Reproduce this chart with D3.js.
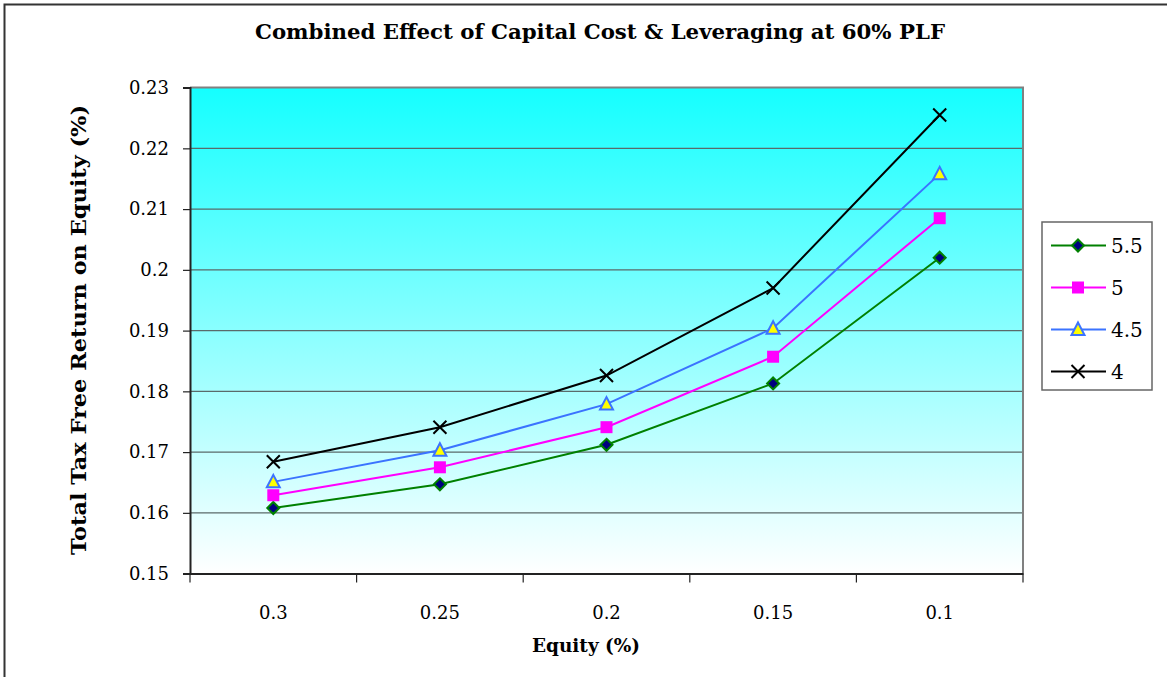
<!DOCTYPE html>
<html>
<head>
<meta charset="utf-8">
<script src="https://cdn.jsdelivr.net/npm/d3@7"></script>
<style>
  html, body { margin: 0; padding: 0; background: #fff; }
  svg { display: block; }
</style>
</head>
<body>
<svg id="chart" width="1167" height="677"></svg>
<script>
// Equity share categories (x axis)
const equity = ["0.3", "0.25", "0.2", "0.15", "0.1"];

// Total tax free return on equity, one array per capital cost
const cost55 = [0.1608, 0.1647, 0.1712, 0.1813, 0.2020];
const cost5  = [0.1629, 0.1675, 0.1741, 0.1857, 0.2085];
const cost45 = [0.1651, 0.1703, 0.1779, 0.1904, 0.2158];
const cost4  = [0.1684, 0.1741, 0.1826, 0.1970, 0.2255];

const seriesNames = ["5.5", "5", "4.5", "4"];
const yTicks = [0.15, 0.16, 0.17, 0.18, 0.19, 0.2, 0.21, 0.22, 0.23];

const series = [
  { name: seriesNames[0], values: cost55, color: "#008000", marker: "diamond" },
  { name: seriesNames[1], values: cost5,  color: "#ff00ff", marker: "square" },
  { name: seriesNames[2], values: cost45, color: "#3b73ff", marker: "triangle" },
  { name: seriesNames[3], values: cost4,  color: "#000000", marker: "cross" }
];

const FONT = "'DejaVu Serif', 'Liberation Serif', serif";

const svg = d3.select("#chart");
const plot = { left: 190, top: 87.6, right: 1023, bottom: 573.6 };

// Outer frame (left and top edges)
svg.append("path")
  .attr("d", `M4.5,677 L4.5,4.5 L1167,4.5`)
  .attr("fill", "none").attr("stroke", "#333").attr("stroke-width", 2);

// Plot background gradient
const defs = svg.append("defs");
const grad = defs.append("linearGradient").attr("id", "bg")
  .attr("x1", 0).attr("y1", 0).attr("x2", 0).attr("y2", 1);
grad.append("stop").attr("offset", "0%").attr("stop-color", "#14ffff");
grad.append("stop").attr("offset", "100%").attr("stop-color", "#ffffff");

svg.append("rect")
  .attr("x", plot.left).attr("y", plot.top)
  .attr("width", plot.right - plot.left).attr("height", plot.bottom - plot.top)
  .attr("fill", "url(#bg)");

const x = d3.scaleBand().domain(equity).range([plot.left, plot.right]);
const y = d3.scaleLinear().domain([0.15, 0.23]).range([plot.bottom, plot.top]);

// Horizontal gridlines
svg.append("g").selectAll("line")
  .data(yTicks.filter(t => t > 0.15 && t < 0.23))
  .join("line")
  .attr("x1", plot.left).attr("x2", plot.right)
  .attr("y1", d => y(d)).attr("y2", d => y(d))
  .attr("stroke", "#5a6a6a").attr("stroke-width", 1.2);

// Top and right plot border
svg.append("path")
  .attr("d", `M${plot.left},${plot.top} L${plot.right},${plot.top} L${plot.right},${plot.bottom}`)
  .attr("fill", "none").attr("stroke", "#808080").attr("stroke-width", 2);

// Y axis
const yAxis = svg.append("g")
  .attr("transform", `translate(${plot.left},0)`)
  .call(d3.axisLeft(y).tickValues(yTicks).tickFormat(d => String(+d.toFixed(2))).tickSize(7).tickPadding(14));
yAxis.select(".domain").attr("stroke", "#222").attr("stroke-width", 2);
yAxis.selectAll(".tick line").attr("stroke", "#222").attr("stroke-width", 1.2);
yAxis.selectAll("text").style("font-family", FONT).style("font-size", "18px").attr("fill", "#000");

// X axis with ticks at category boundaries
const xAxis = svg.append("g")
  .attr("transform", `translate(0,${plot.bottom})`)
  .call(d3.axisBottom(x).tickSize(0).tickPadding(33));
xAxis.select(".domain").attr("stroke", "#222").attr("stroke-width", 2);
xAxis.selectAll("text").style("font-family", FONT).style("font-size", "18px").attr("fill", "#000");
const bounds = equity.map(d => x(d)).concat([x(equity[equity.length - 1]) + x.bandwidth()]);
xAxis.selectAll(".bound").data(bounds).join("line").attr("class", "bound")
  .attr("x1", d => d).attr("x2", d => d).attr("y1", 0).attr("y2", 9)
  .attr("stroke", "#222").attr("stroke-width", 1.2);

// Titles
svg.append("text")
  .attr("x", 600).attr("y", 39).attr("text-anchor", "middle")
  .style("font-family", FONT).style("font-size", "21px").style("font-weight", "bold")
  .attr("textLength", 690).attr("lengthAdjust", "spacingAndGlyphs")
  .text("Combined Effect of Capital Cost & Leveraging at 60% PLF");

svg.append("text")
  .attr("x", 586).attr("y", 652).attr("text-anchor", "middle")
  .style("font-family", FONT).style("font-size", "18px").style("font-weight", "bold")
  .attr("textLength", 108).attr("lengthAdjust", "spacingAndGlyphs")
  .text("Equity (%)");

svg.append("text")
  .attr("transform", "translate(86,330) rotate(-90)").attr("text-anchor", "middle")
  .style("font-family", FONT).style("font-size", "20px").style("font-weight", "bold")
  .attr("textLength", 450).attr("lengthAdjust", "spacingAndGlyphs")
  .text("Total Tax Free Return on Equity (%)");

// Marker drawing
function drawMarker(g, type, color) {
  if (type === "diamond") {
    g.append("path").attr("d", "M0,-6 L6,0 L0,6 L-6,0 Z")
      .attr("fill", "#000080").attr("stroke", color).attr("stroke-width", 2);
  } else if (type === "square") {
    g.append("rect").attr("x", -6).attr("y", -6).attr("width", 12).attr("height", 12)
      .attr("fill", color);
  } else if (type === "triangle") {
    g.append("path").attr("d", "M0,-7 L6.5,5.5 L-6.5,5.5 Z")
      .attr("fill", "#ffff00").attr("stroke", color).attr("stroke-width", 2);
  } else if (type === "cross") {
    g.append("path").attr("d", "M-6.5,-6.5 L6.5,6.5 M-6.5,6.5 L6.5,-6.5")
      .attr("stroke", color).attr("stroke-width", 2);
  }
}

const line = d3.line()
  .x((d, i) => x(equity[i]) + x.bandwidth() / 2)
  .y(d => y(d));

series.forEach(s => {
  svg.append("path").datum(s.values)
    .attr("d", line).attr("fill", "none")
    .attr("stroke", s.color).attr("stroke-width", 2);
  s.values.forEach((v, i) => {
    const g = svg.append("g")
      .attr("transform", `translate(${x(equity[i]) + x.bandwidth() / 2},${y(v)})`);
    drawMarker(g, s.marker, s.color);
  });
});

// Legend
const legend = svg.append("g");
legend.append("rect")
  .attr("x", 1042).attr("y", 222).attr("width", 110).attr("height", 168)
  .attr("fill", "#fff").attr("stroke", "#666").attr("stroke-width", 1.5);
series.forEach((s, i) => {
  const ly = 245.5 + i * 42;
  legend.append("line").attr("x1", 1051).attr("x2", 1106).attr("y1", ly).attr("y2", ly)
    .attr("stroke", s.color).attr("stroke-width", 2);
  drawMarker(legend.append("g").attr("transform", `translate(1078,${ly})`), s.marker, s.color);
  legend.append("text").attr("x", 1111).attr("y", ly + 7.5)
    .style("font-family", FONT).style("font-size", "20px").text(s.name);
});
</script>
</body>
</html>
